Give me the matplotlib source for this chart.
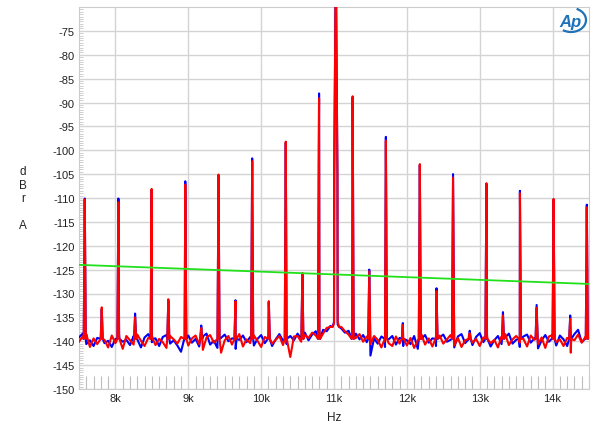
"""
FFT spectrum, two channels, with a sloping reference line
"""
import numpy as np
import matplotlib
matplotlib.use('Agg')
import matplotlib.pyplot as plt
from matplotlib.patches import Arc
from matplotlib.ticker import MultipleLocator

# floor bins every 50 Hz from 7.5k to 14.5k
floor_hz = np.arange(7500, 14501, 50)

blue_floor = [
    -139.2, -138.4, -140.6, -139.8, -141.0, -139.3, -138.6, -140.4, -139.9, -141.2,
    -139.5, -138.3, -140.1, -139.7, -140.8, -138.9, -139.6, -141.3, -139.2, -138.5,
    -140.2, -139.4, -141.0, -139.1, -138.7, -140.5, -139.8, -140.9, -142.2, -139.6,
    -138.8, -140.3, -139.5, -141.1, -139.0, -138.4, -140.7, -139.9, -141.4, -139.3,
    -138.6, -140.0, -139.4, -141.6, -139.7, -138.8, -140.2, -139.1, -140.9, -139.5,
    -138.7, -140.4, -139.2, -141.0, -139.6, -138.5, -139.9, -140.6, -138.9, -139.8,
    -138.4, -139.5, -138.2, -139.8, -138.6, -137.9, -138.8, -137.6, -137.9, -136.8,
    -136.0, -136.5, -137.3, -138.2, -137.8, -139.0, -138.4, -139.6, -138.7, -140.2,
    -143.0, -139.4, -140.5, -139.0, -141.2, -139.6, -138.9, -140.7, -139.3, -141.0,
    -139.8, -140.6, -138.9, -141.6, -139.5, -138.7, -140.3, -139.4, -141.0, -139.2,
    -138.6, -140.1, -139.7, -141.3, -139.0, -138.5, -140.4, -139.6, -140.8, -139.1,
    -138.3, -140.2, -139.5, -141.1, -139.8, -138.9, -140.6, -139.2, -138.4, -140.5,
    -139.7, -141.2, -139.0, -138.6, -140.3, -139.4, -141.5, -139.8, -138.7, -140.1,
    -139.3, -140.9, -138.8, -139.6, -141.0, -139.2, -138.5, -137.6, -140.2, -139.4,
    -138.8,
]

red_floor = [
    -140.1, -139.0, -138.5, -141.2, -139.4, -140.6, -138.9, -139.7, -141.3, -138.8,
    -140.4, -139.2, -141.6, -138.9, -139.8, -140.7, -138.6, -139.9, -141.0, -139.3,
    -138.7, -140.8, -139.5, -140.2, -141.4, -138.9, -139.6, -140.5, -139.1, -138.6,
    -140.9, -139.4, -138.8, -140.6, -141.8, -139.2, -138.7, -140.3, -139.5, -142.4,
    -139.8, -138.9, -140.7, -139.3, -138.5, -141.1, -139.6, -140.4, -138.8, -139.9,
    -141.2, -139.1, -138.6, -140.5, -139.7, -138.9, -140.8, -139.4, -143.3, -139.0,
    -138.9, -140.1, -138.7, -139.3, -138.2, -138.8, -137.8, -138.4, -137.2, -137.0,
    -136.3, -135.9, -137.0, -137.9, -138.6, -137.9, -139.3, -138.5, -140.1, -139.0,
    -140.6, -138.9, -139.7, -141.3, -139.2, -140.4, -141.0, -139.0, -140.5, -139.6,
    -140.9, -139.3, -141.4, -139.8, -138.6, -140.7, -139.4, -141.1, -139.0, -138.8,
    -140.5, -139.6, -138.7, -140.9, -139.3, -141.2, -139.8, -138.9, -140.3, -139.5,
    -141.0, -139.2, -138.6, -140.4, -139.7, -141.3, -139.0, -138.5, -140.8, -139.6,
    -138.9, -140.3, -139.5, -141.1, -138.8, -139.7, -140.6, -139.2, -141.4, -139.0,
    -138.7, -140.2, -139.6, -141.0, -139.3, -142.4, -139.8, -138.6, -140.3, -139.1,
    -138.5,
]

# spurs (Hz) and their levels (dBr A)
peak_hz = [7579, 7812, 8041, 8270, 8497, 8726, 8959, 9178, 9415, 9648, 9877,
           10105, 10338, 10566, 10795, 11256, 11484, 11712, 11945, 12178,
           12407, 12634, 12863, 13092, 13319, 13552, 13781, 14014, 14242, 14470]
blue_peaks = [-110.1, -133.3, -110.1, -134.2, -108.3, -131.5, -106.5, -136.7,
              -105.3, -131.4, -101.7, -131.8, -98.4, -125.9, -88.1, -88.9,
              -125.0, -97.2, -136.2, -103.1, -128.9, -105.0, -137.8, -107.1,
              -133.9, -108.5, -132.4, -110.3, -134.6, -111.4]
red_peaks = [-110.3, -132.9, -110.9, -135.0, -108.1, -131.2, -107.2, -137.2,
             -105.1, -131.6, -102.3, -131.6, -98.2, -125.7, -89.1, -88.7,
             -125.3, -98.0, -136.6, -102.9, -129.5, -105.7, -138.3, -106.9,
             -134.6, -109.0, -133.0, -110.2, -135.3, -112.0]

main_hz = 11025
main_level = -60.0

ref_hz = [7500, 14500]
ref_db = [-124.0, -128.0]


def trace(floor, peaks, base=-139.5):
    """floor bins plus narrow spikes, sorted by frequency"""
    f = list(floor_hz)
    v = list(floor)
    for hz, lvl in zip(peak_hz, peaks):
        f += [hz - 14, hz, hz + 14]
        v += [base, lvl, base]
    f += [main_hz - 45, main_hz - 22, main_hz, main_hz + 22, main_hz + 45]
    v += [-137.0, -105.0, main_level, -105.0, -137.0]
    order = np.argsort(f, kind='stable')
    return np.array(f)[order], np.array(v)[order]


plt.rcParams['font.family'] = ['Liberation Sans', 'DejaVu Sans']
plt.rcParams['font.size'] = 8

fig = plt.figure(figsize=(6, 4.35), dpi=100)
ax = fig.add_axes([79 / 600, 45 / 435, 510 / 600, 382 / 435])

bx, by = trace(blue_floor, blue_peaks)
rx, ry = trace(red_floor, red_peaks)
ax.plot(bx, by, color='#0000ff', lw=1.5, zorder=3)
ax.plot(rx, ry, color='#ff0000', lw=1.5, zorder=4)
ax.plot(ref_hz, ref_db, color='#22e01a', lw=1.3, zorder=5)

ax.set_xlim(7500, 14500)
ax.set_ylim(-150, -70)

ax.xaxis.set_major_locator(MultipleLocator(1000))
ax.xaxis.set_minor_locator(MultipleLocator(100))
ax.yaxis.set_major_locator(MultipleLocator(5))
ax.yaxis.set_minor_locator(MultipleLocator(0.5))

xt = np.arange(8000, 14001, 1000)
ax.set_xticks(xt)
ax.set_xticklabels([f'{int(t / 1000)}k' for t in xt])
yt = np.arange(-150, -74, 5)
ax.set_yticks(yt)
ax.set_yticklabels([str(t) for t in yt])

ax.grid(True, which='major', color='#d4d4d4', lw=1.0, zorder=0)
ax.tick_params(which='major', length=0, pad=3, colors='#222222', labelsize=8)
ax.tick_params(axis='x', which='minor', direction='in', length=9.5,
               width=0.8, color='#bdbdbd')
ax.tick_params(axis='y', which='minor', direction='in', length=3,
               width=0.6, color='#c8c8c8')
for s in ax.spines.values():
    s.set_color('#cccccc')
    s.set_linewidth(0.8)

ax.set_xlabel('Hz', fontsize=8.5, color='#222222', labelpad=6)
fig.text(23 / 600, 1 - 199 / 435, 'd\nB\nr\n\nA', ha='center', va='center',
         fontsize=8.5, color='#222222', linespacing=1.15)

# AP logo
fig.text(570 / 600, 1 - 22 / 435, 'Ap', ha='center', va='center',
         fontsize=12, fontstyle='italic', fontweight='bold', color='#1f72b8')
fig.patches.append(Arc((571 / 600, 1 - 21 / 435), 30 / 600, 24 / 435,
                       theta1=-120, theta2=70, transform=fig.transFigure,
                       color='#1f72b8', lw=1.6))

fig.savefig('out.png', dpi=100)
